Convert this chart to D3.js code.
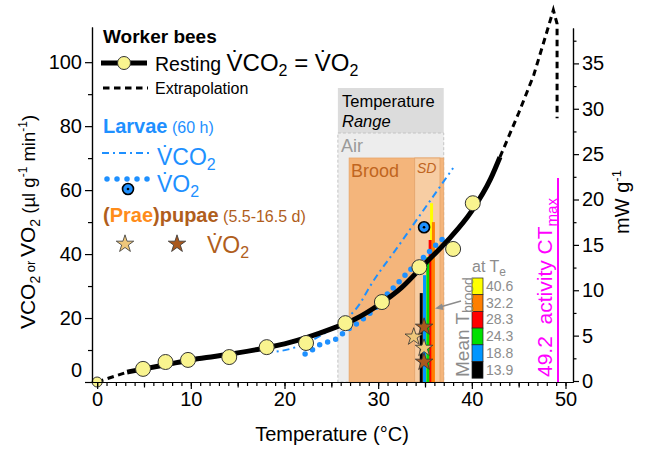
<!DOCTYPE html>
<html>
<head>
<meta charset="utf-8">
<script src="https://cdn.jsdelivr.net/npm/d3@7"></script>
<style>
  body { margin: 0; background: #fff; }
  svg { font-family: "Liberation Sans", Arial, sans-serif; }
  text { white-space: pre; }
</style>
</head>
<body>
<svg id="chart"></svg>
<script>
// worker bees, resting (measured)
const restT = [0, 4.9, 7.3, 9.7, 14.1, 18.1, 22.3, 26.5, 30.4, 34.4, 38.0, 40.1];
const restV = [0, 4.1, 6.25, 6.9, 7.8, 10.9, 12.2, 18.4, 25.0, 35.9, 41.6, 55.9];
// fitted curve
const fitT = [3.2, 5, 7.5, 10, 12.5, 15, 17.5, 20, 22.5, 25, 27.5, 30, 32.5, 35, 37.5, 40, 42, 43];
const fitV = [3.1, 4.1, 5.5, 6.9, 8.0, 9.1, 10.4, 11.9, 14.0, 16.6, 19.6, 24.0, 29.5, 37.0, 44.5, 53.5, 63.5, 70.3];
// extrapolation
const extLowT = [0, 3.2];
const extLowV = [0, 3.1];
const extHighT = [43, 45, 46.6, 47.9, 48.7, 49.1, 49.1];
const extHighV = [70.3, 84.1, 95.9, 108.4, 116.3, 112.0, 82.5];
// larvae (60 h)
const larvaCO2T = [18.0, 20.9, 24.5, 26.7, 28.1, 28.9, 32.3, 38.0];
const larvaCO2V = [9.1, 10.6, 15.6, 20.0, 24.7, 28.8, 43.1, 66.9];
const larvaO2T = [22.2, 23.1, 24.1, 25.1, 26.7, 28.4, 29.8, 30.6, 32.0, 33.5, 35.0, 36.5, 37.4];
const larvaO2V = [8.75, 10.3, 12.2, 12.8, 16.25, 19.7, 23.4, 26.25, 30.6, 35.3, 39.4, 43.75, 45.9];
const larvaPtT = [34.9];
const larvaPtV = [48.4];
// (prae)pupae VO2
const praeT = [33.8, 34.9];
const praeV = [14.1, 10.6];
const pupaT = [34.9, 34.9];
const pupaV = [17.2, 6.25];
// mean T brood at ambient T_e
const teLabels = ['40.6', '32.2', '28.3', '24.3', '18.8', '13.9'];
const teColors = ['#ffff00', '#ff7f00', '#ff0000', '#00e000', '#0096ff', '#000000'];
const broodT = [35.7, 35.9, 35.55, 35.3, 34.95, 34.6];
const broodTop = [55.9, 50.0, 44.4, 39.0, 33.4, 27.8];
// temperature ranges
const airRange = [25.7, 37.0];
const broodRange = [26.9, 37.0];
const sdRange = [33.9, 36.6];
const ctMax = 49.2;
// ticks
const xMajor = [0, 10, 20, 30, 40, 50];
const yMajor = [0, 20, 40, 60, 80, 100];
const y2Major = [0, 5, 10, 15, 20, 25, 30, 35];

let w = 646;
let h = 453;

const blue = '#1e90ff';
const brown = '#b05e1c';
const orange = '#ff8c1a';
const gray = '#8c8c8c';
const magenta = '#ff00ff';

let svg = d3.select('#chart').attr('width', w).attr('height', h);
svg.append('rect').attr('width', w).attr('height', h).attr('fill', '#fff');

let x = d3.scaleLinear().domain([-0.55, 50.8]).range([92, 573]);
let y = d3.scaleLinear().domain([0, 111]).range([382, 27]);
let y2 = d3.scaleLinear().domain([0, 38.9]).range([381, 28]);

const zip = (a, b) => a.map((v, i) => [v, b[i]]);
const lineLin = d3.line().x(d => x(d[0])).y(d => y(d[1]));
const lineMono = d3.line().x(d => x(d[0])).y(d => y(d[1])).curve(d3.curveMonotoneX);

// text with sub/superscripts
function rich(g, px, py, parts, base) {
  let t = g.append('text').attr('x', px).attr('y', py);
  Object.entries(base || {}).forEach(([k, v]) => t.attr(k, v));
  let shift = 0;
  parts.forEach(p => {
    let o = p[1] || {};
    let s = t.append('tspan').text(p[0]);
    let sh = o.sh || 0;
    if (sh !== shift) s.attr('dy', sh - shift);
    shift = sh;
    Object.entries(o).forEach(([k, v]) => { if (k !== 'sh') s.attr(k, v); });
  });
  return t;
}

// ---- temperature range boxes
let xa0 = x(airRange[0]), xa1 = x(airRange[1]);
svg.append('rect').attr('x', xa0).attr('y', 88).attr('width', xa1 - xa0).attr('height', 45)
  .attr('fill', '#dcdcdc');
svg.append('rect').attr('x', xa0).attr('y', 133).attr('width', xa1 - xa0).attr('height', 382 - 133)
  .attr('fill', '#ededed').attr('stroke', '#c4c4c4').attr('stroke-dasharray', '3,2');
svg.append('rect').attr('x', x(broodRange[0])).attr('y', 158)
  .attr('width', x(broodRange[1]) - x(broodRange[0])).attr('height', 382 - 158)
  .attr('fill', '#f4b57b').attr('stroke', '#e8a66a').attr('stroke-width', 0.8);
svg.append('rect').attr('x', x(sdRange[0])).attr('y', 158)
  .attr('width', x(sdRange[1]) - x(sdRange[0])).attr('height', 382 - 158)
  .attr('fill', '#f7cda3').attr('stroke', '#e3a36a').attr('stroke-width', 0.8);

svg.append('text').attr('x', 342).attr('y', 107).attr('font-size', 16.5).text('Temperature');
svg.append('text').attr('x', 342).attr('y', 127).attr('font-size', 16.5).attr('font-style', 'italic').text('Range');
svg.append('text').attr('x', 341).attr('y', 152).attr('font-size', 18).attr('fill', '#9a9a9a').text('Air');
svg.append('text').attr('x', 351).attr('y', 177).attr('font-size', 18).attr('fill', '#c0651f').text('Brood');
svg.append('text').attr('x', 417).attr('y', 173).attr('font-size', 14).attr('font-style', 'italic').attr('fill', '#c0651f').text('SD');

// ---- mean brood temperature bars
svg.selectAll('.tbar')
  .data(broodT.map((t, i) => ({ t: t, top: broodTop[i], c: teColors[i] })))
  .enter()
  .append('line')
  .attr('class', 'tbar')
  .attr('x1', d => x(d.t)).attr('x2', d => x(d.t))
  .attr('y1', y(0)).attr('y2', d => y(d.top))
  .attr('stroke', d => d.c).attr('stroke-width', 3);

// ---- larvae
svg.append('path').datum(zip(larvaCO2T, larvaCO2V)).attr('d', lineMono)
  .attr('fill', 'none').attr('stroke', blue).attr('stroke-width', 2)
  .attr('stroke-dasharray', '7,4,2,4');
svg.append('path').datum(zip(larvaO2T, larvaO2V)).attr('d', lineMono)
  .attr('fill', 'none').attr('stroke', blue).attr('stroke-width', 5.5)
  .attr('stroke-linecap', 'round').attr('stroke-dasharray', '0,8.6');

// ---- worker bees
svg.append('path').datum(zip(fitT, fitV)).attr('d', lineMono)
  .attr('fill', 'none').attr('stroke', '#000').attr('stroke-width', 5);
svg.append('path').datum(zip(extLowT, extLowV)).attr('d', lineLin)
  .attr('fill', 'none').attr('stroke', '#000').attr('stroke-width', 3).attr('stroke-dasharray', '6.5,4.5');
svg.append('path').datum(zip(extHighT, extHighV)).attr('d', lineLin)
  .attr('fill', 'none').attr('stroke', '#000').attr('stroke-width', 3).attr('stroke-dasharray', '6.5,4.5');

svg.selectAll('.rest')
  .data(zip(restT, restV))
  .enter()
  .append('circle')
  .attr('class', 'rest')
  .attr('cx', d => x(d[0])).attr('cy', d => y(d[1]))
  .attr('r', (d, i) => i == 0 ? 5 : 7.5)
  .attr('fill', '#f9f48f').attr('stroke', '#333').attr('stroke-width', 1);

// larva single point
zip(larvaPtT, larvaPtV).forEach(d => {
  svg.append('circle').attr('cx', x(d[0])).attr('cy', y(d[1])).attr('r', 5.5)
    .attr('fill', blue).attr('stroke', '#000').attr('stroke-width', 1.6);
  svg.append('circle').attr('cx', x(d[0])).attr('cy', y(d[1])).attr('r', 1.3).attr('fill', '#000');
});

// stars
const star = d3.symbol().type(d3.symbolStar).size(95);
svg.selectAll('.prae')
  .data(zip(praeT, praeV)).enter().append('path')
  .attr('d', star).attr('transform', d => `translate(${x(d[0])},${y(d[1])})`)
  .attr('fill', '#eec77b').attr('stroke', '#333').attr('stroke-width', 0.8);
svg.selectAll('.pupa')
  .data(zip(pupaT, pupaV)).enter().append('path')
  .attr('d', star).attr('transform', d => `translate(${x(d[0])},${y(d[1])})`)
  .attr('fill', '#a9581d').attr('stroke', '#333').attr('stroke-width', 0.8);

// ---- T_e colour legend
rich(svg, 472, 272, [['at T'], ['e', { sh: 4, 'font-size': 12 }]], { 'font-size': 16, fill: gray });
teLabels.forEach((lab, i) => {
  svg.append('rect').attr('x', 472).attr('y', 278 + i * 16.7).attr('width', 11).attr('height', 16.7)
    .attr('fill', teColors[i]).attr('stroke', '#222').attr('stroke-width', 0.7);
  svg.append('text').attr('x', 486).attr('y', 278 + i * 16.7 + 13).attr('font-size', 14)
    .attr('fill', gray).text(lab);
});
rich(svg, 0, 0, [['Mean T'], ['brood', { sh: 4, 'font-size': 14 }]],
  { transform: 'translate(469,377) rotate(-90)', 'font-size': 19, fill: gray });
svg.append('line').attr('x1', 461).attr('y1', 301).attr('x2', 440).attr('y2', 307)
  .attr('stroke', gray).attr('stroke-width', 1.5);
svg.append('path').attr('d', 'M435,308.5 L442,303.5 L443.5,310 Z').attr('fill', gray);

// ---- CTmax
svg.append('line').attr('x1', x(ctMax)).attr('x2', x(ctMax)).attr('y1', 178).attr('y2', 382)
  .attr('stroke', magenta).attr('stroke-width', 2);
rich(svg, 0, 0, [['49.2'], ['  activity CT'], ['max', { sh: 5, 'font-size': 15 }]],
  { transform: 'translate(552,377) rotate(-90)', 'font-size': 21, fill: magenta });

// ---- axes
function styleAxis(g) {
  g.selectAll('g').attr('font-size', null).attr('font-family', null);
  g.attr('font-size', null).attr('font-family', null);
  g.selectAll('path, line').attr('stroke', '#000').attr('stroke-width', 1.2);
  g.selectAll('text').attr('fill', '#000').attr('font-size', 20);
}
let gx = svg.append('g').attr('transform', 'translate(0,382)');
gx.call(d3.axisBottom(x).tickValues(d3.range(0, 51, 1)).tickSize(4).tickSizeOuter(0).tickFormat(''));
gx.append('g').call(d3.axisBottom(x).tickValues(d3.range(5, 50, 10)).tickSize(5.5).tickSizeOuter(0).tickFormat(''));
gx.append('g').call(d3.axisBottom(x).tickValues(xMajor).tickSize(7).tickSizeOuter(0).tickPadding(3));
styleAxis(gx);

let gy = svg.append('g').attr('transform', 'translate(92,0)');
gy.call(d3.axisLeft(y).tickValues(d3.range(10, 100, 20)).tickSize(4).tickSizeOuter(0).tickFormat(''));
gy.append('g').call(d3.axisLeft(y).tickValues(yMajor).tickSize(7).tickSizeOuter(0).tickPadding(3));
styleAxis(gy);
gy.selectAll('.tick text').filter(d => d === 0).attr('dy', '-0.28em');

let gy2 = svg.append('g').attr('transform', 'translate(573,0)');
gy2.call(d3.axisRight(y2).tickValues(d3.range(2.5, 40, 5)).tickSize(3.5).tickSizeOuter(0).tickFormat(''));
gy2.append('g').call(d3.axisRight(y2).tickValues(y2Major).tickSize(6).tickSizeOuter(0).tickPadding(3));
styleAxis(gy2);

// axis titles
svg.append('text').attr('x', 332).attr('y', 441).attr('text-anchor', 'middle').attr('font-size', 20)
  .text('Temperature (°C)');
rich(svg, 0, 0, [
  ['VCO'], ['2', { sh: 5, 'font-size': 14 }], [' or ', { sh: 0, 'font-size': 13 }],
  ['VO', { 'font-size': 21 }], ['2', { sh: 5, 'font-size': 14 }],
  [' (µl g', { sh: 0, 'font-size': 18.5 }], ['-1', { sh: -8, 'font-size': 12 }],
  [' min', { sh: 0, 'font-size': 18.5 }], ['-1', { sh: -8, 'font-size': 12 }], [')', { sh: 0, 'font-size': 18.5 }]
], { transform: 'translate(35,222) rotate(-90)', 'text-anchor': 'middle', 'font-size': 21 });
rich(svg, 0, 0, [['mW g'], ['-1', { sh: -8, 'font-size': 13 }]],
  { transform: 'translate(629,202) rotate(-90)', 'text-anchor': 'middle', 'font-size': 20 });

// ---- legend
let lg = svg.append('g');
lg.append('text').attr('x', 103).attr('y', 43).attr('font-size', 19).attr('font-weight', 'bold').text('Worker bees');
lg.append('line').attr('x1', 101).attr('x2', 147).attr('y1', 63).attr('y2', 63).attr('stroke', '#000').attr('stroke-width', 5);
lg.append('circle').attr('cx', 124).attr('cy', 63).attr('r', 6.5).attr('fill', '#f9f48f').attr('stroke', '#333');
rich(lg, 155, 71, [['Resting '], ['V\u0307CO', { 'font-size': 24 }], ['2', { sh: 5, 'font-size': 16 }],
  [' = V\u0307O', { sh: 0, 'font-size': 24 }], ['2', { sh: 5, 'font-size': 16 }]], { 'font-size': 19.5 });
lg.append('line').attr('x1', 103).attr('x2', 148).attr('y1', 88).attr('y2', 88).attr('stroke', '#000')
  .attr('stroke-width', 3).attr('stroke-dasharray', '6.5,4.5');
lg.append('text').attr('x', 155).attr('y', 94).attr('font-size', 16).text('Extrapolation');

rich(lg, 103, 133, [['Larvae', { 'font-weight': 'bold', 'font-size': 20 }], [' (60 h)', { 'font-size': 16 }]], { fill: blue });
lg.append('line').attr('x1', 102).attr('x2', 149).attr('y1', 153).attr('y2', 153).attr('stroke', blue)
  .attr('stroke-width', 2).attr('stroke-dasharray', '7,4,2,4');
rich(lg, 157, 165, [['V\u0307CO'], ['2', { sh: 5, 'font-size': 16 }]], { 'font-size': 23, fill: blue });
lg.append('line').attr('x1', 107).attr('x2', 148).attr('y1', 179).attr('y2', 179).attr('stroke', blue)
  .attr('stroke-width', 5.5).attr('stroke-linecap', 'round').attr('stroke-dasharray', '0,10');
rich(lg, 157, 192, [['V\u0307O'], ['2', { sh: 5, 'font-size': 16 }]], { 'font-size': 23, fill: blue });
lg.append('circle').attr('cx', 128).attr('cy', 189).attr('r', 5.5).attr('fill', blue).attr('stroke', '#000').attr('stroke-width', 1.6);
lg.append('circle').attr('cx', 128).attr('cy', 189).attr('r', 1.3).attr('fill', '#000');

rich(lg, 103, 222, [['(', { fill: brown }], ['Prae', { fill: orange }], [')pupae', { fill: brown }],
  [' (5.5-16.5 d)', { 'font-weight': 'normal', 'font-size': 16, fill: brown }]], { 'font-size': 20, 'font-weight': 'bold' });
lg.append('path').attr('d', star).attr('transform', 'translate(125,244)').attr('fill', '#eec77b').attr('stroke', '#333').attr('stroke-width', 0.8);
lg.append('path').attr('d', star).attr('transform', 'translate(177,244)').attr('fill', '#a9581d').attr('stroke', '#333').attr('stroke-width', 0.8);
rich(lg, 207, 253, [['V\u0307O'], ['2', { sh: 5, 'font-size': 16 }]], { 'font-size': 23, fill: brown });
</script>
</body>
</html>
